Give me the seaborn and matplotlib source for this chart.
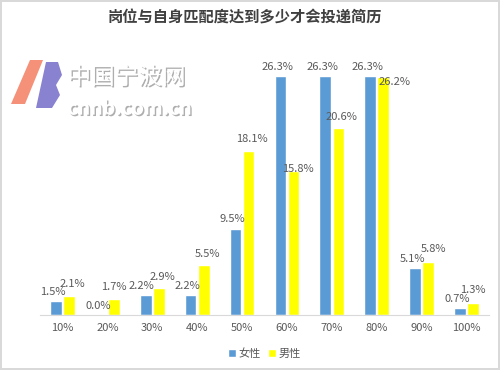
import matplotlib
matplotlib.use("Agg")
import matplotlib.pyplot as plt
import matplotlib.patheffects as pe
from matplotlib.patches import Polygon
import seaborn as sns
import pandas as pd

# -------------------------
# data
# -------------------------
categories = ["10%", "20%", "30%", "40%", "50%", "60%", "70%", "80%", "90%", "100%"]
female = [1.5, 0.0, 2.2, 2.2, 9.5, 26.3, 26.3, 26.3, 5.1, 0.7]
male = [2.1, 1.7, 2.9, 5.5, 18.1, 15.8, 20.6, 26.2, 5.8, 1.3]
series_names = ["女性", "男性"]
title = "岗位与自身匹配度达到多少才会投递简历"

df = pd.DataFrame({
    "match": categories * 2,
    "value": female + male,
    "group": [series_names[0]] * len(categories) + [series_names[1]] * len(categories),
})

sns.set_style("white")
plt.rcParams["font.family"] = ["Noto Sans CJK SC", "DejaVu Sans"]

text_grey = "#595959"
palette = {series_names[0]: "#5B9BD5", series_names[1]: "#FFFF00"}

fig = plt.figure(figsize=(5, 3.7), dpi=100)
fig.patch.set_edgecolor("#D9D9D9")
fig.patch.set_linewidth(1.5)
ax = fig.add_axes([0.08, 0.1495, 0.898, 0.735])

sns.barplot(data=df, x="match", y="value", hue="group", palette=palette,
            width=0.58, gap=0.1, saturation=1, ax=ax, legend=True)

ax.set_ylim(0, 30)
ax.set_xlim(-0.5, len(categories) - 0.5)
ax.set_yticks([])
ax.set_xlabel("")
ax.set_ylabel("")
for s in ["top", "left", "right"]:
    ax.spines[s].set_visible(False)
ax.spines["bottom"].set_color("#D9D9D9")
ax.tick_params(axis="x", length=0, colors=text_grey, labelsize=8, pad=6)

# value labels (nudges in points, Excel-style placement)
nudge_x = [-2, 2.5]
nudge_y = [3, 4.5]
special = {(0, 2): (-3, 3), (1, 1): (0, 5), (1, 7): (8, -7),
           (1, 8): (4, 5.5), (1, 9): (0, 6), (1, 5): (3, -2)}
for si, cont in enumerate(ax.containers):
    for ci, bar in enumerate(cont):
        v = cont.datavalues[ci]
        dx, dy = special.get((si, ci), (nudge_x[si], nudge_y[si]))
        ax.annotate(f"{v:.1f}%", (bar.get_x() + bar.get_width() / 2, bar.get_height()),
                    xytext=(dx, dy), textcoords="offset points", ha="center",
                    va="bottom", fontsize=8, color=text_grey)

# legend
handles, labels = ax.get_legend_handles_labels()
ax.legend(handles, labels, loc="center", bbox_to_anchor=(0.5, -0.142),
          ncol=2, frameon=False, fontsize=8, handlelength=0.7, handleheight=0.7,
          handletextpad=0.3, columnspacing=0.6, labelcolor=text_grey)

fig.text(0.49, 0.952, title, ha="center", va="center", fontsize=11,
         fontweight="bold", color="#404040")

# watermark
def px(x, y):
    return (x / 500, 1 - y / 370)

fig.patches.append(Polygon([px(30, 60), px(43, 60), px(25, 104), px(11, 104)],
                           closed=True, transform=fig.transFigure,
                           facecolor="#F4846A", edgecolor="none", alpha=0.9))
fig.patches.append(Polygon([px(46, 62), px(58, 62), px(62, 75), px(56, 85),
                            px(60, 95), px(52, 108), px(36, 108)],
                           closed=True, transform=fig.transFigure,
                           facecolor="#7C74CC", edgecolor="none", alpha=0.9))
shadow = [pe.withSimplePatchShadow(offset=(1, -1), shadow_rgbFace="#9a9a9a", alpha=0.8)]
fig.text(0.135, 0.79, "中国宁波网", fontsize=17, color="white", ha="left",
         va="center", path_effects=shadow)
fig.text(0.135, 0.705, "cnnb.com.cn", fontsize=14, color="white", ha="left",
         va="center", style="italic", fontweight="bold", path_effects=shadow)

fig.savefig("out.png", dpi=100)
